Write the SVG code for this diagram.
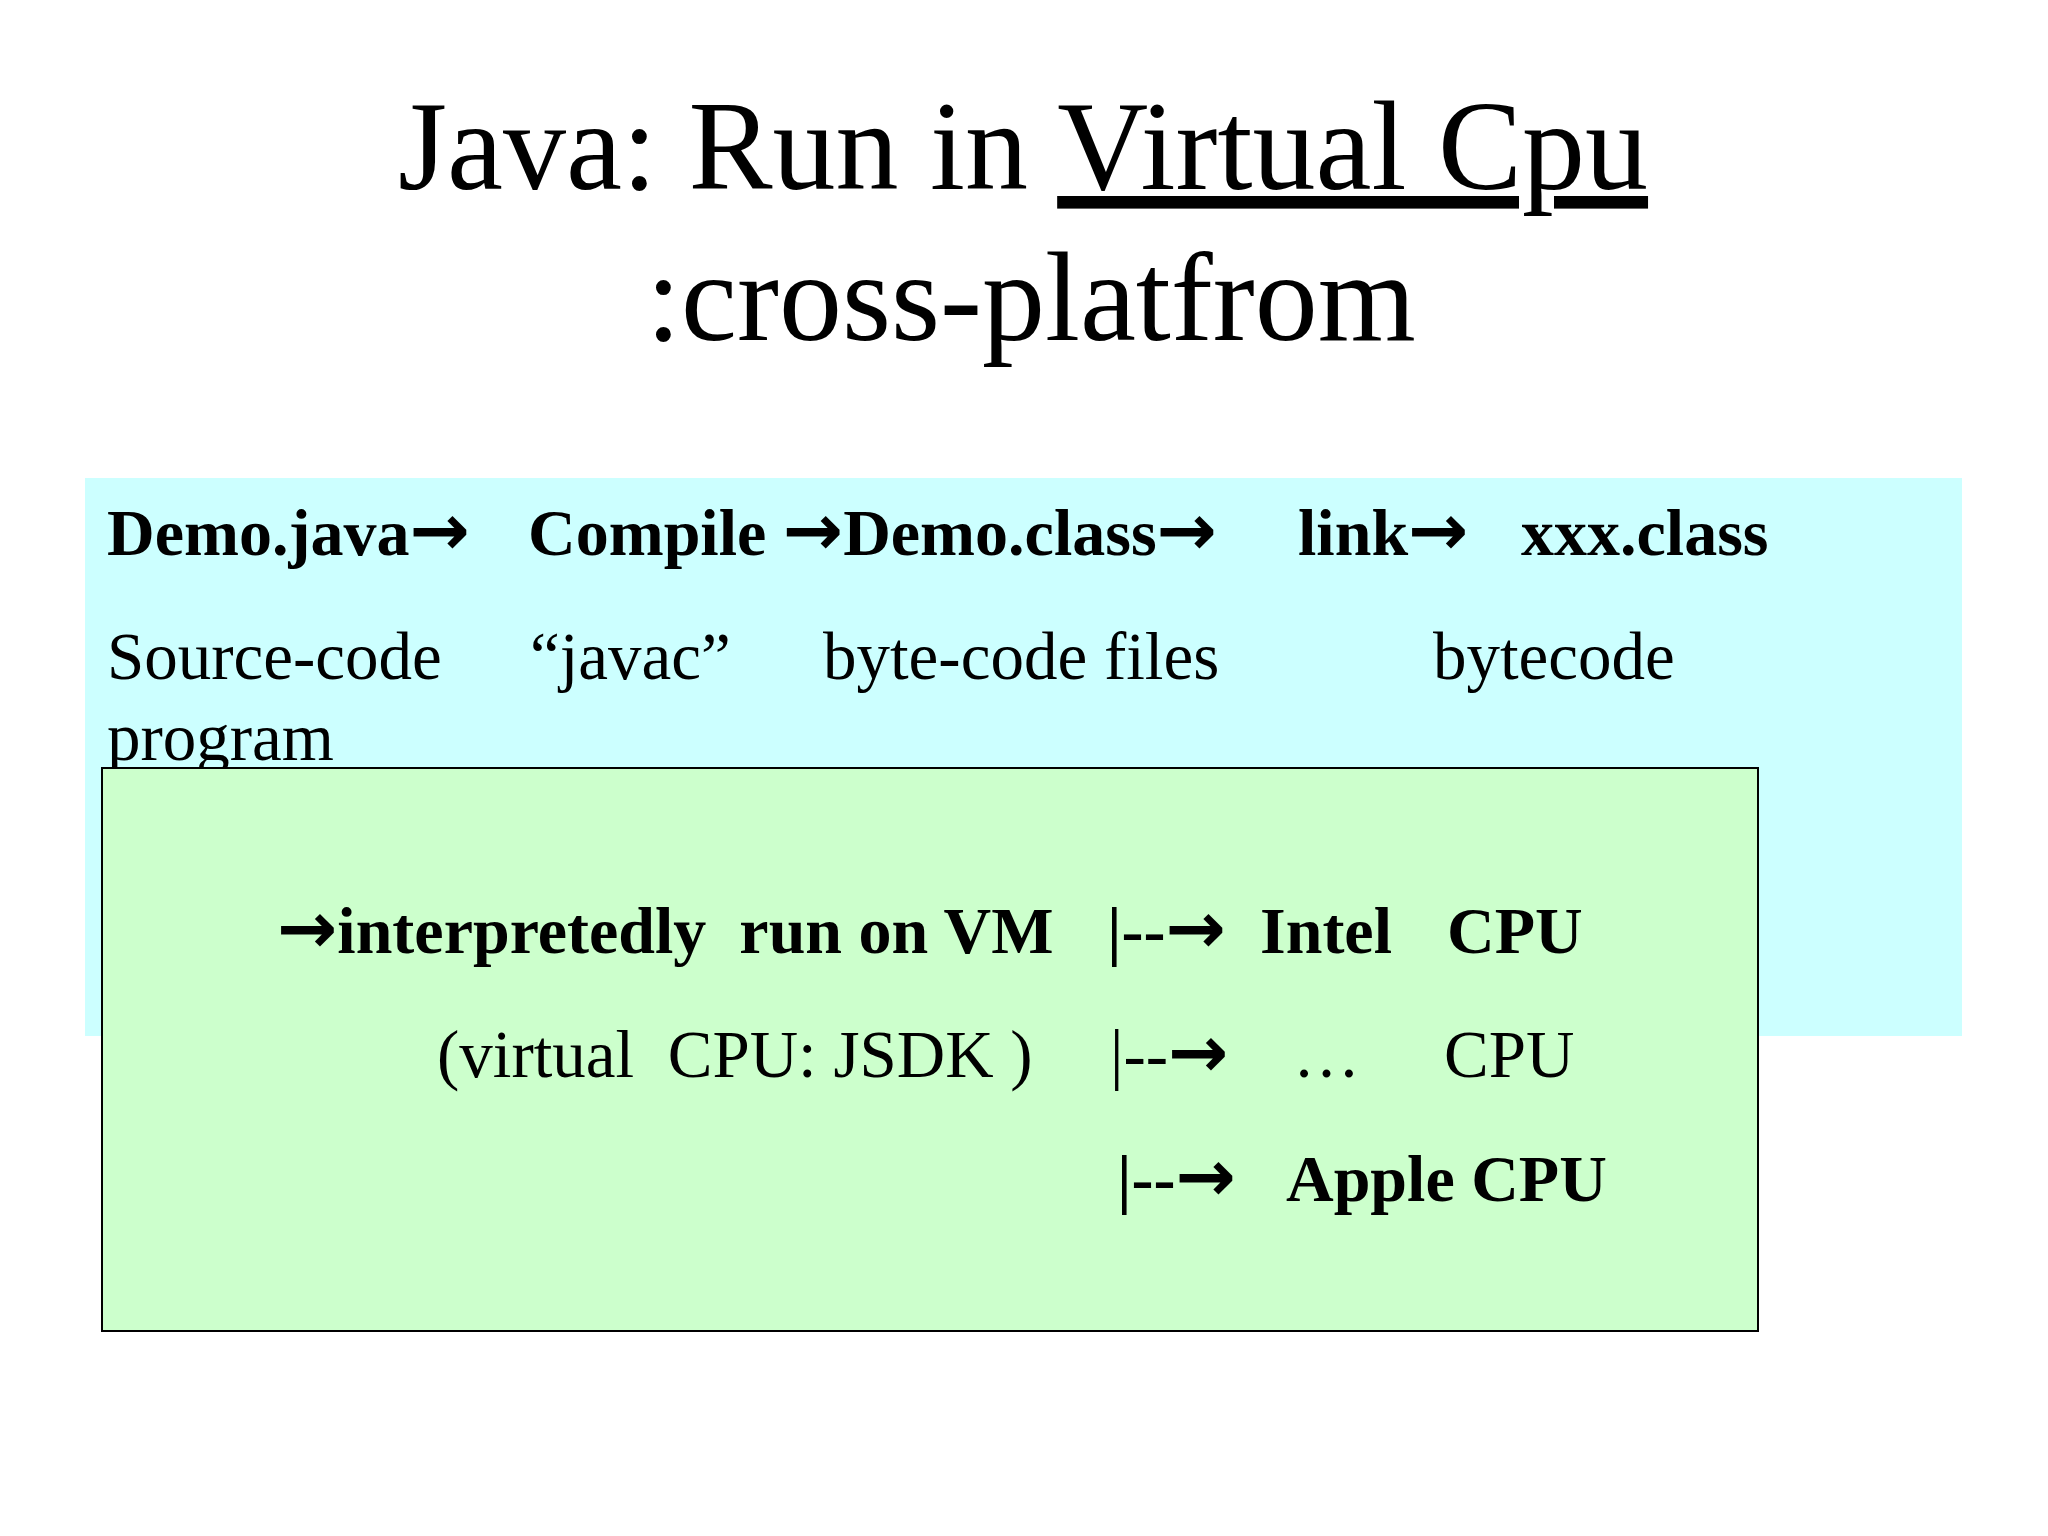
<svg xmlns="http://www.w3.org/2000/svg" width="2048" height="1536" viewBox="0 0 2048 1536">
<style>
text{font-family:"Liberation Serif","Times New Roman",serif;fill:#000}
.t{font-size:126px}
.b{font-size:66px;font-weight:bold}
.n{font-size:67px}
.a{font-family:"DejaVu Sans",sans-serif;font-weight:bold;font-size:72px}
</style>
<rect width="2048" height="1536" fill="#fff"/>
<g id="title">
<text class="t" x="398" y="189">Java: Run in <tspan text-decoration="underline">Virtual Cpu</tspan></text>
<text class="t" x="646" y="340">:cross-platfrom</text>
</g>
<g id="pipeline">
<rect x="85" y="478" width="1877" height="558" fill="#CCFFFF"/>
<text class="b" x="107" y="555">Demo.java<tspan class="a">→</tspan></text>
<text class="b" x="528" y="555">Compile <tspan class="a">→</tspan>Demo.class<tspan class="a">→</tspan></text>
<text class="b" x="1298" y="555">link<tspan class="a">→</tspan></text>
<text class="b" x="1521" y="555">xxx.class</text>
<text class="n" x="107" y="679">Source-code</text>
<text class="n" x="530" y="679">“javac”</text>
<text class="n" x="823" y="679">byte-code files</text>
<text class="n" x="1433" y="679">bytecode</text>
<text class="n" x="107" y="760">program</text>
</g>
<g id="vm">
<rect x="102" y="768" width="1656" height="563" fill="#CCFFCC" stroke="#000" stroke-width="2"/>
<text class="b" x="277" y="953" xml:space="preserve"><tspan class="a">→</tspan>interpretedly  run on VM</text>
<text class="b" x="1107" y="953">|--<tspan class="a">→</tspan></text>
<text class="b" x="1260" y="953">Intel</text>
<text class="b" x="1447" y="953">CPU</text>
<text class="n" x="437" y="1077" xml:space="preserve">(virtual  CPU: JSDK )</text>
<text class="n" x="1110" y="1077">|--<tspan class="a" font-weight="normal">→</tspan></text>
<text class="n" x="1293" y="1077">…</text>
<text class="n" x="1444" y="1077">CPU</text>
<text class="b" x="1117" y="1201">|--<tspan class="a">→</tspan></text>
<text class="b" x="1286" y="1201">Apple CPU</text>
</g>
</svg>
